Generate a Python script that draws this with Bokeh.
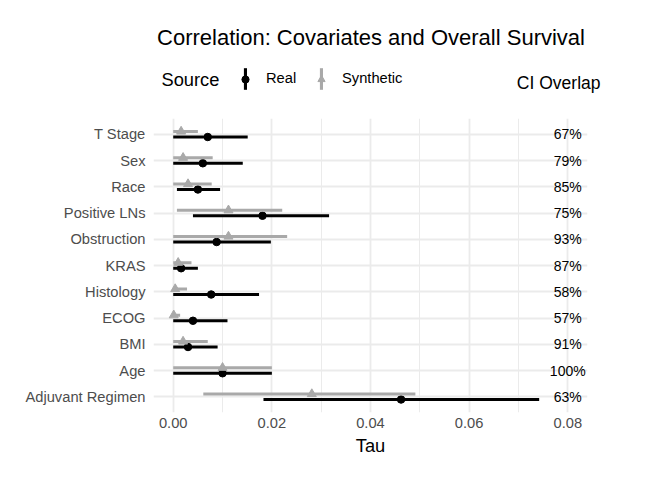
from bokeh.plotting import figure
from bokeh.layouts import column
from bokeh.models import Range1d, FixedTicker, ColumnDataSource, Label, Legend, LegendItem
from bokeh.transform import dodge
from bokeh.core.properties import value
from bokeh.embed import file_html
from bokeh.resources import INLINE

FONT = "Liberation Sans"

# ---- data ----
covariates = ["T Stage", "Sex", "Race", "Positive LNs", "Obstruction", "KRAS",
              "Histology", "ECOG", "BMI", "Age", "Adjuvant Regimen"]
real_tau = [0.0070, 0.0060, 0.0050, 0.0181, 0.0088, 0.0016, 0.0077, 0.0040, 0.0030, 0.0100, 0.0462]
real_lo  = [0.0000, 0.0000, 0.00075, 0.0040, 0.0000, 0.0000, 0.0000, 0.0000, 0.0000, 0.0000, 0.0183]
real_hi  = [0.0151, 0.0141, 0.0095, 0.0316, 0.0198, 0.0050, 0.0174, 0.0110, 0.0090, 0.0200, 0.0742]
syn_tau  = [0.0016, 0.0020, 0.0030, 0.0112, 0.0112, 0.0010, 0.0004, 0.0001, 0.0020, 0.0100, 0.0281]
syn_lo   = [0.0000, 0.0000, 0.0000, 0.00075, 0.0000, 0.0000, 0.0000, 0.0000, 0.0000, 0.0000, 0.0061]
syn_hi   = [0.0050, 0.0080, 0.0078, 0.0221, 0.0231, 0.0037, 0.0028, 0.0014, 0.0070, 0.0200, 0.0491]
ci_overlap = ["67%", "79%", "85%", "75%", "93%", "87%", "58%", "57%", "91%", "100%", "63%"]
ci_label_x = 0.08

sources = ["Real", "Synthetic"]
x_ticks = [0.0, 0.02, 0.04, 0.06, 0.08]
x_tick_labels = ["0.00", "0.02", "0.04", "0.06", "0.08"]
x_minor = [0.01, 0.03, 0.05, 0.07]

REAL_COLOR = "#000000"
SYN_COLOR = "#A9A9A9"
GRID = "#EBEBEB"
AXIS_TEXT = "#4D4D4D"

W = 656
HEAD_H = 118
MAIN_H = 358

n = len(covariates)
ypos = [n - i for i in range(n)]

src = ColumnDataSource(dict(y=ypos, cov=covariates,
                            real_tau=real_tau, real_lo=real_lo, real_hi=real_hi,
                            syn_tau=syn_tau, syn_lo=syn_lo, syn_hi=syn_hi,
                            ci=ci_overlap))

# ---------------- header (title + legend) ----------------
h = figure(width=W, height=HEAD_H, output_backend="svg", toolbar_location=None,
           x_range=Range1d(0, W), y_range=Range1d(HEAD_H, 0),
           x_axis_location=None, y_axis_location=None,
           min_border_left=0, min_border_right=0, min_border_top=0, min_border_bottom=0)
h.frame_align = False
h.outline_line_color = None
h.xgrid.visible = False
h.ygrid.visible = False

h.add_layout(Label(x=370.5, y=37, text="Correlation: Covariates and Overall Survival",
                   text_align="center", text_baseline="middle", text_font=FONT,
                   text_font_size="22px", text_color="#000000"))
h.add_layout(Label(x=161, y=79, text="Source",
                   text_align="left", text_baseline="middle", text_font=FONT,
                   text_font_size="18.3px", text_color="#000000"))
h.add_layout(Label(x=600, y=82, text="CI Overlap",
                   text_align="right", text_baseline="middle", text_font=FONT,
                   text_font_size="17.5px", text_color="#000000"))

# legend key renderers (no visible data: NaN coordinates)
nan = float("nan")
rA1 = h.vbar(x=[nan], top=[nan], width=1, fill_color=REAL_COLOR, line_color=None)
rA2 = h.vbar(x=[nan], top=[nan], width=1, fill_color=SYN_COLOR, line_color=None)
rB1 = h.scatter(x=[nan], y=[nan], marker="circle", size=7.5, fill_color=REAL_COLOR, line_color=REAL_COLOR)
rB2 = h.scatter(x=[nan], y=[nan], marker="triangle", size=9, fill_color=SYN_COLOR, line_color=SYN_COLOR)

common = dict(orientation="horizontal", padding=0, margin=0, border_line_color=None,
              background_fill_alpha=0, label_text_font=FONT, label_text_font_size="14.7px",
              label_text_color="#000000", label_standoff=19, label_width=32)
legA = Legend(items=[LegendItem(label=value(sources[0]), renderers=[rA1]),
                     LegendItem(label=value(sources[1]), renderers=[rA2])],
              location=(243, 26.5), glyph_width=4, glyph_height=27, spacing=21, **common)
legB = Legend(items=[LegendItem(label=value(""), renderers=[rB1]),
                     LegendItem(label=value(""), renderers=[rB2])],
              location=(236, 30), glyph_width=18, glyph_height=18, spacing=7, **common)
h.add_layout(legA)
h.add_layout(legB)

# ---------------- main panel ----------------
p = figure(width=W, height=MAIN_H, output_backend="svg", toolbar_location=None,
           x_range=Range1d(-0.004, 0.084), y_range=Range1d(0.4, n + 0.6),
           min_border_left=153, min_border_right=69, min_border_top=0, min_border_bottom=64)
p.frame_align = False
p.outline_line_color = None

p.xaxis.ticker = FixedTicker(ticks=x_ticks, minor_ticks=x_minor)
p.xaxis.major_label_overrides = {t: l for t, l in zip(x_ticks, x_tick_labels)}
p.yaxis.ticker = FixedTicker(ticks=ypos)
p.yaxis.major_label_overrides = {y: c for y, c in zip(ypos, covariates)}
for ax in (p.xaxis[0], p.yaxis[0]):
    ax.axis_line_color = None
    ax.major_tick_line_color = None
    ax.minor_tick_line_color = None
    ax.major_tick_out = 0
    ax.major_tick_in = 0
    ax.minor_tick_out = 0
    ax.minor_tick_in = 0
    ax.major_label_text_font = FONT
    ax.major_label_text_font_size = "14.7px"
    ax.major_label_text_color = AXIS_TEXT
p.xaxis.major_label_standoff = 5
p.yaxis.major_label_standoff = 8
p.xaxis.axis_label = "Tau"
p.xaxis.axis_label_text_font = FONT
p.xaxis.axis_label_text_font_size = "18.3px"
p.xaxis.axis_label_text_font_style = "normal"
p.xaxis.axis_label_text_color = "#000000"
p.xaxis.axis_label_standoff = 4

p.xgrid.grid_line_color = GRID
p.xgrid.grid_line_width = 1.8
p.xgrid.minor_grid_line_color = GRID
p.xgrid.minor_grid_line_width = 1.0
p.ygrid.grid_line_color = GRID
p.ygrid.grid_line_width = 1.8

OFF = 0.105
p.segment(x0="real_lo", x1="real_hi", y0=dodge("y", -OFF), y1=dodge("y", -OFF),
          source=src, line_color=REAL_COLOR, line_width=3.2)
p.scatter(x="real_tau", y=dodge("y", -OFF), source=src, marker="circle",
          size=7.5, fill_color=REAL_COLOR, line_color=REAL_COLOR)
p.segment(x0="syn_lo", x1="syn_hi", y0=dodge("y", OFF), y1=dodge("y", OFF),
          source=src, line_color=SYN_COLOR, line_width=3.2)
p.scatter(x="syn_tau", y=dodge("y", OFF), source=src, marker="triangle",
          size=9, fill_color=SYN_COLOR, line_color=SYN_COLOR)

p.text(x=ci_label_x, y="y", text="ci", source=src, text_align="center",
       text_baseline="middle", text_font=value(FONT), text_font_size="14px",
       text_color="#000000")

layout = column(h, p, spacing=0)
open("out.html", "w").write(file_html(layout, INLINE))
